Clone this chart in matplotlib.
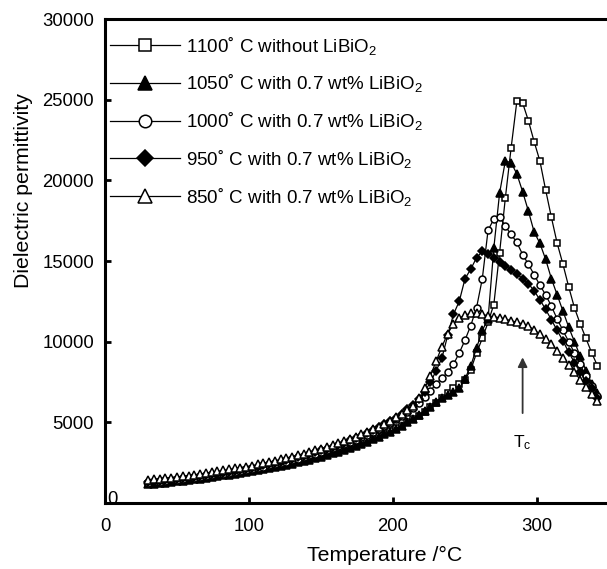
import matplotlib
matplotlib.use("Agg")
import matplotlib.pyplot as plt

plt.rcParams['font.family'] = ['Liberation Sans', 'DejaVu Sans']
plt.rcParams['mathtext.fontset'] = 'custom'
plt.rcParams['mathtext.rm'] = 'Liberation Sans'
plt.rcParams['mathtext.it'] = 'Liberation Sans'
plt.rcParams['mathtext.default'] = 'regular'

temperature = [30, 34, 38, 42, 46, 50, 54, 58, 62, 66, 70, 74, 78, 82, 86, 90, 94, 98,
               102, 106, 110, 114, 118, 122, 126, 130, 134, 138, 142, 146, 150, 154, 158,
               162, 166, 170, 174, 178, 182, 186, 190, 194, 198, 202, 206, 210, 214, 218,
               222, 226, 230, 234, 238, 242, 246, 250, 254, 258, 262, 266, 270, 274, 278,
               282, 286, 290, 294, 298, 302, 306, 310, 314, 318, 322, 326, 330, 334, 338, 342]

eps_1100 = [1150, 1190, 1230, 1270, 1310, 1350, 1390, 1430, 1480, 1520, 1570, 1620, 1670,
            1720, 1770, 1820, 1870, 1930, 1990, 2050, 2110, 2180, 2250, 2320, 2390, 2470,
            2550, 2640, 2730, 2820, 2910, 3010, 3110, 3220, 3330, 3450, 3570, 3700, 3840,
            3980, 4130, 4290, 4450, 4620, 4800, 4990, 5200, 5420, 5660, 5920, 6200, 6500,
            6800, 7100, 7350, 7650, 8250, 9300, 10200, 11200, 12300, 15500, 18900, 22000,
            24900, 24800, 23700, 22400, 21200, 19400, 17700, 16100, 14800, 13400, 12100,
            11100, 10200, 9300, 8500]

eps_1050 = [1150, 1190, 1230, 1270, 1310, 1350, 1390, 1430, 1470, 1510, 1560, 1610, 1660,
            1710, 1760, 1810, 1860, 1910, 1970, 2030, 2090, 2150, 2220, 2290, 2360, 2440,
            2520, 2600, 2690, 2780, 2870, 2970, 3070, 3180, 3290, 3410, 3530, 3660, 3800,
            3940, 4090, 4250, 4420, 4600, 4790, 4990, 5210, 5440, 5690, 5960, 6250, 6500,
            6700, 6900, 7100, 7700, 8500, 9600, 10700, 11400, 15800, 19200, 21200, 21100,
            20400, 19300, 18100, 16800, 16100, 15100, 13900, 12900, 11900, 10900, 10000,
            9100, 8200, 7400, 6800]

eps_1000 = [1250, 1290, 1330, 1370, 1410, 1450, 1490, 1530, 1570, 1620, 1670, 1720, 1770,
            1820, 1880, 1940, 2000, 2060, 2120, 2190, 2260, 2330, 2410, 2490, 2570, 2660,
            2750, 2850, 2950, 3050, 3160, 3270, 3390, 3510, 3640, 3780, 3920, 4070, 4230,
            4400, 4580, 4770, 4970, 5180, 5400, 5640, 5900, 6200, 6550, 6950, 7400, 7750,
            8100, 8600, 9300, 10100, 11000, 12100, 13900, 16900, 17600, 17750, 17150, 16650,
            16150, 15400, 14800, 14150, 13500, 12900, 12200, 11400, 10700, 10000, 9300,
            8600, 7850, 7250, 6650]

eps_950 = [1300, 1330, 1370, 1410, 1450, 1490, 1530, 1570, 1620, 1670, 1720, 1770, 1820,
           1880, 1940, 2000, 2060, 2120, 2190, 2260, 2330, 2410, 2490, 2570, 2660, 2750,
           2840, 2940, 3040, 3150, 3260, 3370, 3490, 3610, 3740, 3880, 4020, 4170, 4330,
           4500, 4680, 4870, 5070, 5290, 5530, 5800, 6100, 6450, 6900, 7500, 8200, 9000,
           10400, 11700, 12500, 13900, 14500, 15200, 15600, 15450, 15200, 14950, 14700,
           14450, 14200, 13900, 13600, 13150, 12600, 12000, 11350, 10700, 10050, 9350,
           8700, 8100, 7550, 7150, 6500]

eps_850 = [1450, 1480, 1510, 1540, 1580, 1620, 1660, 1700, 1750, 1800, 1850, 1900, 1960,
           2020, 2080, 2140, 2200, 2260, 2320, 2390, 2460, 2540, 2620, 2700, 2790, 2880,
           2970, 3060, 3160, 3260, 3360, 3470, 3580, 3700, 3830, 3960, 4100, 4250, 4400,
           4560, 4730, 4910, 5100, 5300, 5520, 5760, 6030, 6500, 7100, 7900, 8800, 9700,
           10500, 11100, 11450, 11650, 11750, 11750, 11700, 11600, 11550, 11480, 11400,
           11300, 11200, 11100, 10950, 10750, 10450, 10150, 9850, 9450, 9000, 8550, 8100,
           7650, 7200, 6750, 6300]

labels = ["1100˚ C without LiBiO$_2$",
          "1050˚ C with 0.7 wt% LiBiO$_2$",
          "1000˚ C with 0.7 wt% LiBiO$_2$",
          "950˚ C with 0.7 wt% LiBiO$_2$",
          "850˚ C with 0.7 wt% LiBiO$_2$"]

x_ticks = [0, 100, 200, 300]
y_ticks = [5000, 10000, 15000, 20000, 25000, 30000]

fig = plt.figure(figsize=(6.07, 5.69), dpi=100)
ax = fig.add_axes([105 / 607, 66 / 569, 502 / 607, 484 / 569])

styles = [
    (eps_1100, 's', 'white'),
    (eps_1050, '^', 'black'),
    (eps_1000, 'o', 'white'),
    (eps_950, 'D', 'black'),
    (eps_850, '^', 'white'),
]
sizes = {'s': 5.0, '^': 5.5, 'o': 5.0, 'D': 4.5}
for (vals, m, fc), lab in zip(styles, labels):
    ax.plot(temperature, vals, color='black', lw=0.9, marker=m,
            markersize=sizes[m], markerfacecolor=fc, markeredgecolor='black',
            markeredgewidth=1.1, label=lab, clip_on=True)

ax.set_xlim(0, 348.6)
ax.set_ylim(0, 30000)
ax.set_xticks(x_ticks)
ax.set_yticks(y_ticks)
ax.tick_params(direction='in', length=4, width=2, labelsize=13.3)
ax.tick_params(axis='x', pad=11)
ax.tick_params(axis='y', pad=8)
for s in ['left', 'bottom', 'top']:
    ax.spines[s].set_linewidth(2.2)
ax.spines['right'].set_visible(False)

ax.set_xlabel("Temperature /°C", fontsize=15.3)
ax.xaxis.set_label_coords(0.558, -0.088)
ax.set_ylabel("Dielectric permittivity", fontsize=15.3)
ax.yaxis.set_label_coords(-0.143, 0.645)

ax.text(5.5, -300, "0", fontsize=13.3, ha='center', va='bottom')

ax.annotate("", xy=(290, 9200), xytext=(290, 5400),
            arrowprops=dict(arrowstyle='-|>', color='#333333', lw=1.3,
                            mutation_scale=14))
ax.text(290, 3750, "T$_c$", fontsize=12.5, ha='center', va='center')

leg = ax.legend(loc='upper left', bbox_to_anchor=(-0.012, 0.991), frameon=False,
                fontsize=13.5, handlelength=3.7, handletextpad=0.35,
                labelspacing=0.84, markerscale=1.8, borderaxespad=0.2)

fig.savefig("out.png", dpi=100)
